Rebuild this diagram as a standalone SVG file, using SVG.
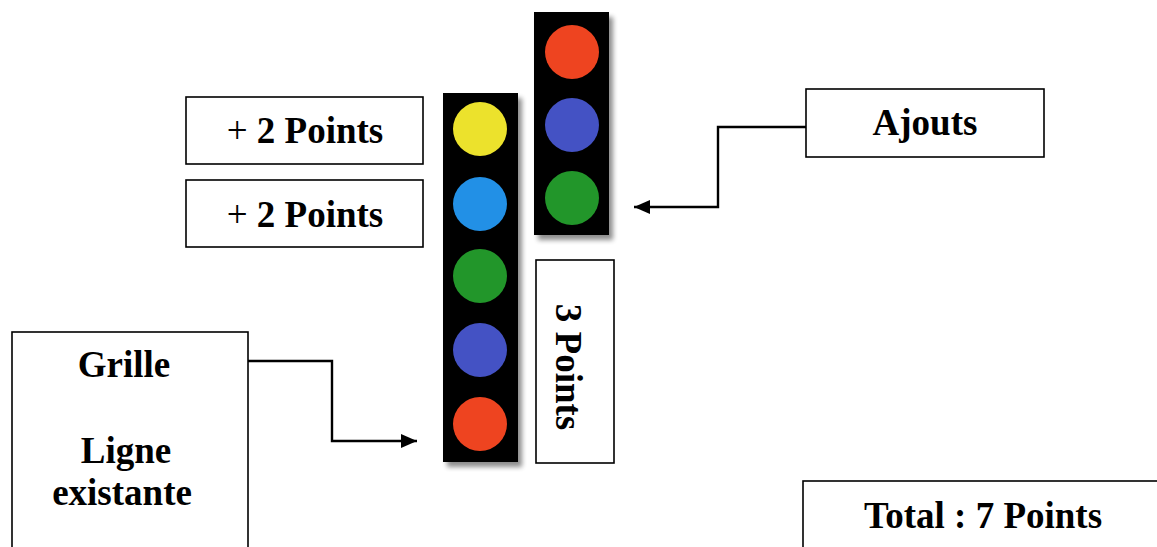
<svg xmlns="http://www.w3.org/2000/svg" width="1157" height="547" viewBox="0 0 1157 547">
  <defs>
    <style>
      .box { fill: #ffffff; stroke: #000000; stroke-width: 1.6; }
      .lbl { font-family: "Liberation Serif", "Times New Roman", serif; font-weight: bold; font-size: 37px; fill: #000000; }
      .plus { font-weight: normal; }
      .strip { fill: #000000; filter: url(#shadow); }
      .conn { fill: none; stroke: #000000; stroke-width: 2.4; }
    </style>
    <filter id="shadow" x="-20%" y="-10%" width="150%" height="130%">
      <feGaussianBlur in="SourceAlpha" stdDeviation="2.5"/>
      <feOffset dx="4" dy="5" result="b"/>
      <feComponentTransfer><feFuncA type="linear" slope="0.45"/></feComponentTransfer>
      <feMerge><feMergeNode/><feMergeNode in="SourceGraphic"/></feMerge>
    </filter>
    <marker id="arrow" markerWidth="16" markerHeight="14" refX="16" refY="7" orient="auto" markerUnits="userSpaceOnUse">
      <path d="M0,0 L16,7 L0,14 Z" fill="#000000"/>
    </marker>
  </defs>

  <g id="strip-existing">
    <rect class="strip" x="443" y="93" width="75" height="369"/>
    <circle cx="480" cy="129" r="27" fill="#ece22c"/>
    <circle cx="480" cy="204" r="27" fill="#2290e6"/>
    <circle cx="480" cy="276" r="27" fill="#22962a"/>
    <circle cx="480" cy="350" r="27" fill="#4452c4"/>
    <circle cx="480" cy="424" r="27" fill="#ee4420"/>
  </g>

  <g id="strip-ajouts">
    <rect class="strip" x="534" y="12" width="75" height="223"/>
    <circle cx="572" cy="52" r="27" fill="#ee4420"/>
    <circle cx="572" cy="125" r="27" fill="#4452c4"/>
    <circle cx="572" cy="198" r="27" fill="#22962a"/>
  </g>

  <g id="box-plus2-a">
    <rect class="box" x="186" y="97" width="237" height="67"/>
    <text class="lbl" x="305" y="143" text-anchor="middle"><tspan class="plus">+</tspan> 2 Points</text>
  </g>

  <g id="box-plus2-b">
    <rect class="box" x="186" y="180" width="237" height="67"/>
    <text class="lbl" x="305" y="227" text-anchor="middle"><tspan class="plus">+</tspan> 2 Points</text>
  </g>

  <g id="box-3points">
    <rect class="box" x="536" y="260" width="78" height="203"/>
    <text class="lbl" transform="translate(556,367) rotate(90)" text-anchor="middle">3 Points</text>
  </g>

  <g id="box-grille">
    <rect class="box" x="12" y="332" width="236" height="230"/>
    <text class="lbl" x="124" y="377" text-anchor="middle">Grille</text>
    <text class="lbl" x="126" y="463" text-anchor="middle">Ligne</text>
    <text class="lbl" x="122" y="505" text-anchor="middle">existante</text>
  </g>

  <g id="box-ajouts">
    <rect class="box" x="806" y="89" width="238" height="68"/>
    <text class="lbl" x="925" y="135" text-anchor="middle">Ajouts</text>
  </g>

  <g id="box-total">
    <rect class="box" x="803" y="481" width="380" height="90"/>
    <text class="lbl" x="983" y="528" text-anchor="middle">Total : 7 Points</text>
  </g>

  <g id="connectors">
    <polyline class="conn" points="248,361 332,361 332,441 417,441" marker-end="url(#arrow)"/>
    <polyline class="conn" points="806,127 718,127 718,207 634,207" marker-end="url(#arrow)"/>
  </g>
</svg>
